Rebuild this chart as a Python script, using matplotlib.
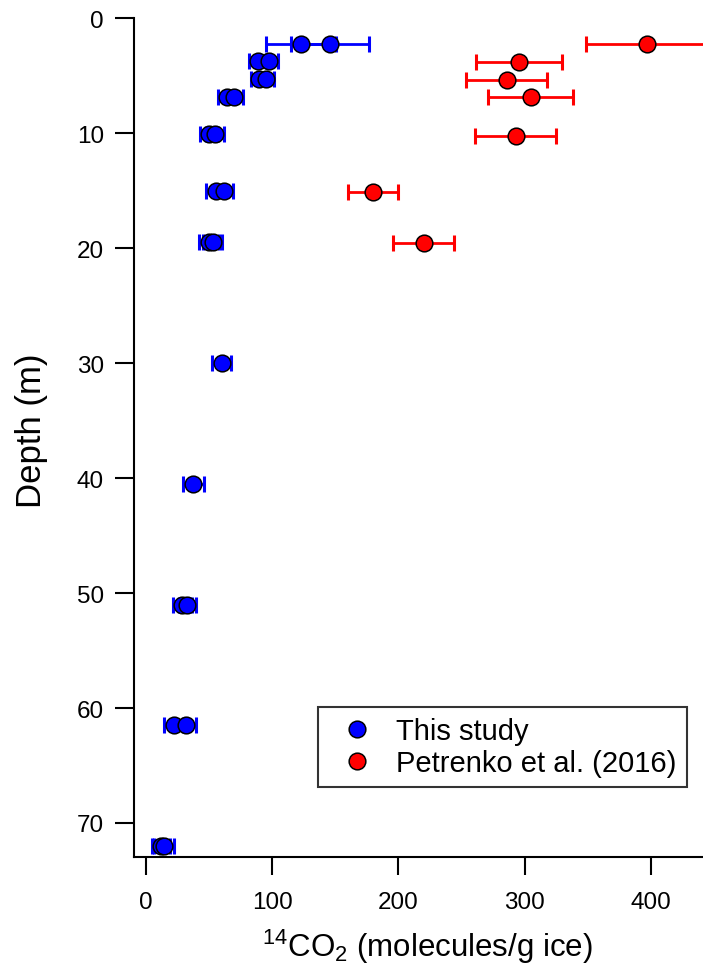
import matplotlib
matplotlib.use("Agg")
import matplotlib.pyplot as plt

plt.rcParams["font.family"] = ["Liberation Sans", "DejaVu Sans"]
plt.rcParams["mathtext.fontset"] = "custom"
plt.rcParams["mathtext.rm"] = "Liberation Sans"
plt.rcParams["mathtext.it"] = "Liberation Sans:italic"

# This study (depth in m, 14CO2 in molecules/g ice, 1-sigma error)
blue_depth = [2.23, 2.23, 3.71, 3.71, 5.28, 5.28, 6.87, 6.87, 10.06, 10.06,
              15.0, 15.0, 19.5, 19.5, 30.0, 40.5, 51.0, 51.0, 61.5, 61.5, 72.0, 72.0]
blue_co2 = [123, 146, 88.5, 97.7, 89.7, 95, 64.5, 69.8, 50, 54.7,
            55.3, 62, 50, 53, 60.3, 37.8, 29, 33, 22.3, 31.7, 12.2, 14.3]
blue_err = [28, 31, 7, 7, 6.5, 6.5, 7, 7, 7, 7,
            7.5, 7, 8, 7.5, 7.6, 8, 7.5, 7, 7.5, 8, 7, 8]

# Petrenko et al. (2016)
red_depth = [2.25, 3.8, 5.35, 6.85, 10.25, 15.1, 19.55]
red_co2 = [396.4, 295.6, 285.8, 304.6, 293, 180, 220]
red_err = [48, 34, 32, 34, 32, 20, 24]

fig = plt.figure(figsize=(7.03, 9.78), dpi=100)
ax = fig.add_axes([0.1906, 0.1222, 0.8094, 0.8581])

ax.errorbar(blue_co2, blue_depth, xerr=blue_err, fmt="none", ecolor="#0000ff",
            elinewidth=2.0, capsize=5.5, capthick=2.2, zorder=2)
ax.errorbar(red_co2, red_depth, xerr=red_err, fmt="none", ecolor="#ff0000",
            elinewidth=2.0, capsize=6, capthick=2.2, zorder=2)
ax.plot(blue_co2, blue_depth, "o", color="#0000ff", mec="black", mew=1.1,
        ms=12, label="This study", zorder=3)
ax.plot(red_co2, red_depth, "o", color="#ff0000", mec="black", mew=1.1,
        ms=12, label="Petrenko et al. (2016)", zorder=3)

ax.set_xlim(-9.26, 441.1)
ax.set_ylim(73.0, 0)
ax.set_xticks([0, 100, 200, 300, 400])
ax.set_yticks([0, 10, 20, 30, 40, 50, 60, 70])

for s in ["top", "right"]:
    ax.spines[s].set_visible(False)
for s in ["left", "bottom"]:
    ax.spines[s].set_linewidth(1.5)

ax.tick_params(axis="y", direction="out", length=13.7, width=1.5, pad=8, labelsize=17.5)
ax.tick_params(axis="x", direction="out", length=13, width=1.5, pad=11, labelsize=17.5)

ax.set_xlabel(r"$^{14}$CO$_2$ (molecules/g ice)", fontsize=22.5)
ax.set_ylabel("Depth (m)", fontsize=25)
ax.xaxis.set_label_coords(0.516, -0.0828)
ax.yaxis.set_label_coords(-0.152, 0.51)

leg = ax.legend(loc="lower right", bbox_to_anchor=(0.9713, 0.084), borderaxespad=0,
                fontsize=21, frameon=True, fancybox=False, edgecolor="black",
                labelspacing=0.12, handletextpad=0.34, borderpad=0.35, handlelength=2.0)
leg.get_frame().set_linewidth(1.5)

fig.savefig("out.png", dpi=100)
